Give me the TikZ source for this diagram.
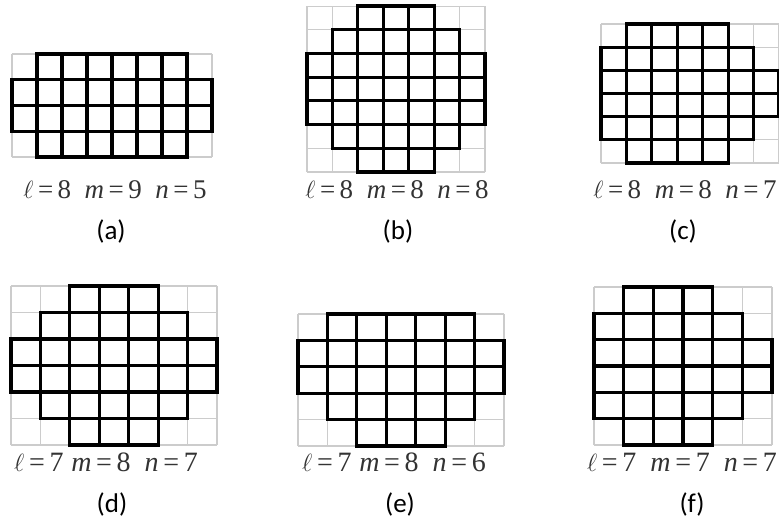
\documentclass[tikz,border=0pt]{standalone}
\usepackage{fontspec}
\setmainfont{Liberation Serif}
\newfontfamily\paramfont{Liberation Serif}
\newfontfamily\capfont{Carlito}
\tikzstyle{gridline} = [draw=black!20, line width=1.1pt]
\tikzstyle{cellbox} = [draw=black, line width=3.2pt]
\tikzstyle{params} = [
    font=\paramfont\fontsize{27}{27}\selectfont,
    text=black!80,
    inner sep=0pt
]
\tikzstyle{bigparams} = [params, font=\paramfont\fontsize{28}{28}\selectfont]
\tikzstyle{caption} = [
    font=\capfont\fontsize{27}{27}\selectfont,
    inner sep=0pt
]

\begin{document}
\begin{tikzpicture}[x=1pt, y=1pt]
\useasboundingbox (0,0) rectangle (779,523);
\fill[white] (0,0) rectangle (779,523);

% (a)
\begin{scope}[shift={(12,366)}, x=25pt, y=25.75pt]
\draw[gridline, step=1] (0,0) grid (8,4);
\foreach \r/\a/\b in {0/1/6, 1/0/7, 2/0/7, 3/1/6}
    \foreach \c in {\a,...,\b}
        \draw[cellbox] (\c,\r) rectangle +(1,1);
\end{scope}

% (b)
\begin{scope}[shift={(307,351)}, x=25.43pt, y=23.7pt]
\draw[gridline, step=1] (0,0) grid (7,7);
\foreach \r/\a/\b in {0/2/4, 1/1/5, 2/0/6, 3/0/6, 4/0/6, 5/1/5, 6/2/4}
    \foreach \c in {\a,...,\b}
        \draw[cellbox] (\c,\r) rectangle +(1,1);
\end{scope}

% (c)
\begin{scope}[shift={(601,360)}, x=25.43pt, y=23.17pt]
\draw[gridline, step=1] (0,0) grid (7,6);
\foreach \r/\a/\b in {0/1/4, 1/0/5, 2/0/6, 3/0/6, 4/0/5, 5/1/4}
    \foreach \c in {\a,...,\b}
        \draw[cellbox] (\c,\r) rectangle +(1,1);
\end{scope}

% (d)
\begin{scope}[shift={(11,78)}, x=29.43pt, y=26.5pt]
\draw[gridline, step=1] (0,0) grid (7,6);
\foreach \r/\a/\b in {0/2/4, 1/1/5, 2/0/6, 3/0/6, 4/1/5, 5/2/4}
    \foreach \c in {\a,...,\b}
        \draw[cellbox] (\c,\r) rectangle +(1,1);
\end{scope}

% (e)
\begin{scope}[shift={(298,77)}, x=29.43pt, y=26.4pt]
\draw[gridline, step=1] (0,0) grid (7,5);
\foreach \r/\a/\b in {0/2/4, 1/1/5, 2/0/6, 3/0/6, 4/1/5}
    \foreach \c in {\a,...,\b}
        \draw[cellbox] (\c,\r) rectangle +(1,1);
\end{scope}

% (f)
\begin{scope}[shift={(594,78)}, x=29.67pt, y=26.33pt]
\draw[gridline, step=1] (0,0) grid (6,6);
\foreach \r/\a/\b in {0/1/3, 1/0/4, 2/0/5, 3/0/5, 4/0/4, 5/1/3}
    \foreach \c in {\a,...,\b}
        \draw[cellbox] (\c,\r) rectangle +(1,1);
\end{scope}

\node (parama) [params] at (115,333)
{$\ell$\,=\,8\enspace\textit{m}\,=\,9\enspace\textit{n}\,=\,5};
\node (capa) [caption] at (111,292) {(a)};

\node (paramb) [params] at (397,333)
{$\ell$\,=\,8\enspace\textit{m}\,=\,8\enspace\textit{n}\,=\,8};
\node (capb) [caption] at (398,292) {(b)};

\node (paramc) [params] at (685,333)
{$\ell$\,=\,8\enspace\textit{m}\,=\,8\enspace\textit{n}\,=\,7};
\node (capc) [caption] at (683,292) {(c)};

\node (paramd) [bigparams] at (106,61)
{$\ell$\,=\,7\;\textit{m}\,=\,8\enspace\textit{n}\,=\,7};
\node (capd) [caption] at (112,19) {(d)};

\node (parame) [bigparams] at (394,61)
{$\ell$\,=\,7\;\textit{m}\,=\,8\enspace\textit{n}\,=\,6};
\node (cape) [caption] at (400,19) {(e)};

\node (paramf) [bigparams] at (682,61)
{$\ell$\,=\,7\enspace\textit{m}\,=\,7\enspace\textit{n}\,=\,7};
\node (capf) [caption] at (692,19) {(f)};

\end{tikzpicture}
\end{document}
